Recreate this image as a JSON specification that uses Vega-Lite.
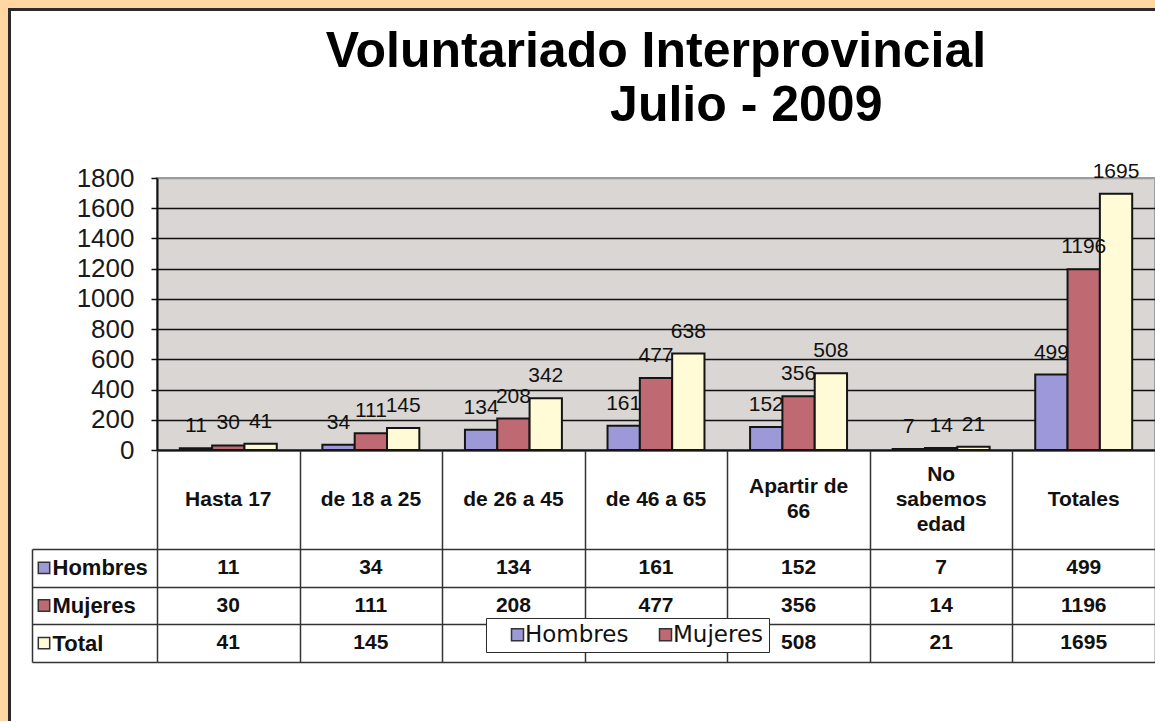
{
  "$schema": "https://vega.github.io/schema/vega-lite/v6.json",
  "padding": 0,
  "background": "#FFFFFF",
  "config": {
    "view": {"stroke": null},
    "concat": {"spacing": 0},
    "font": "Liberation Sans"
  },
  "datasets": {
    "main": [
      {"cat": "Hasta 17", "serie": "Hombres", "value": 11},
      {"cat": "Hasta 17", "serie": "Mujeres", "value": 30},
      {"cat": "Hasta 17", "serie": "Total", "value": 41},
      {"cat": "de 18 a 25", "serie": "Hombres", "value": 34},
      {"cat": "de 18 a 25", "serie": "Mujeres", "value": 111},
      {"cat": "de 18 a 25", "serie": "Total", "value": 145},
      {"cat": "de 26 a 45", "serie": "Hombres", "value": 134},
      {"cat": "de 26 a 45", "serie": "Mujeres", "value": 208},
      {"cat": "de 26 a 45", "serie": "Total", "value": 342},
      {"cat": "de 46 a 65", "serie": "Hombres", "value": 161},
      {"cat": "de 46 a 65", "serie": "Mujeres", "value": 477},
      {"cat": "de 46 a 65", "serie": "Total", "value": 638},
      {"cat": "Apartir de 66", "serie": "Hombres", "value": 152},
      {"cat": "Apartir de 66", "serie": "Mujeres", "value": 356},
      {"cat": "Apartir de 66", "serie": "Total", "value": 508},
      {"cat": "No sabemos edad", "serie": "Hombres", "value": 7},
      {"cat": "No sabemos edad", "serie": "Mujeres", "value": 14},
      {"cat": "No sabemos edad", "serie": "Total", "value": 21},
      {"cat": "Totales", "serie": "Hombres", "value": 499},
      {"cat": "Totales", "serie": "Mujeres", "value": 1196},
      {"cat": "Totales", "serie": "Total", "value": 1695}
    ],
    "head": [
      {"cat": "Hasta 17", "mid": "Hasta 17", "top2": "", "bot2": "", "top3": "", "bot3": ""},
      {"cat": "de 18 a 25", "mid": "de 18 a 25", "top2": "", "bot2": "", "top3": "", "bot3": ""},
      {"cat": "de 26 a 45", "mid": "de 26 a 45", "top2": "", "bot2": "", "top3": "", "bot3": ""},
      {"cat": "de 46 a 65", "mid": "de 46 a 65", "top2": "", "bot2": "", "top3": "", "bot3": ""},
      {"cat": "Apartir de 66", "mid": "", "top2": "Apartir de", "bot2": "66", "top3": "", "bot3": ""},
      {"cat": "No sabemos edad", "mid": "sabemos", "top2": "", "bot2": "", "top3": "No", "bot3": "edad"},
      {"cat": "Totales", "mid": "Totales", "top2": "", "bot2": "", "top3": "", "bot3": ""}
    ],
    "series": [
      {"serie": "Hombres"},
      {"serie": "Mujeres"},
      {"serie": "Total"}
    ]
  },
  "columns": 6,
  "spacing": 0,
  "bounds": "flush",
  "align": "each",
  "concat": [
    {"width": 8, "height": 8, "data": {"values": []}, "mark": "rect", "view": {"fill": "#FFD7A2"}},
    {"width": 3, "height": 8, "data": {"values": []}, "mark": "rect", "view": {"fill": "#FFD7A2"}},
    {"width": 21, "height": 8, "data": {"values": []}, "mark": "rect", "view": {"fill": "#FFD7A2"}},
    {"width": 24, "height": 8, "data": {"values": []}, "mark": "rect", "view": {"fill": "#FFD7A2"}},
    {"width": 101, "height": 8, "data": {"values": []}, "mark": "rect", "view": {"fill": "#FFD7A2"}},
    {"width": 998, "height": 8, "data": {"values": []}, "mark": "rect", "view": {"fill": "#FFD7A2"}},

    {"width": 8, "height": 3, "data": {"values": []}, "mark": "rect", "view": {"fill": "#FFD7A2"}},
    {"width": 3, "height": 3, "data": {"values": []}, "mark": "rect", "view": {"fill": "#2B2B2B"}},
    {"width": 21, "height": 3, "data": {"values": []}, "mark": "rect", "view": {"fill": "#2B2B2B"}},
    {"width": 24, "height": 3, "data": {"values": []}, "mark": "rect", "view": {"fill": "#2B2B2B"}},
    {"width": 101, "height": 3, "data": {"values": []}, "mark": "rect", "view": {"fill": "#2B2B2B"}},
    {"width": 998, "height": 3, "data": {"values": []}, "mark": "rect", "view": {"fill": "#2B2B2B"}},

    {"width": 8, "height": 167, "data": {"values": []}, "mark": "rect", "view": {"fill": "#FFD7A2"}},
    {"width": 3, "height": 167, "data": {"values": []}, "mark": "rect", "view": {"fill": "#2B2B2B"}},
    {"width": 21, "height": 167, "data": {"values": []}, "mark": "rect"},
    {"width": 24, "height": 167, "data": {"values": []}, "mark": "rect"},
    {"width": 101, "height": 167, "data": {"values": []}, "mark": "rect"},
    {"width": 998, "height": 167, "data": {"values": []}, "mark": "rect"},

    {"width": 8, "height": 272, "data": {"values": []}, "mark": "rect", "view": {"fill": "#FFD7A2"}},
    {"width": 3, "height": 272, "data": {"values": []}, "mark": "rect", "view": {"fill": "#2B2B2B"}},
    {"width": 21, "height": 272, "data": {"values": []}, "mark": "rect"},
    {"width": 24, "height": 272, "data": {"values": []}, "mark": "rect"},
    {"width": 101, "height": 272, "data": {"values": []}, "mark": "rect"},
    {
      "width": 998,
      "height": 272,
      "view": {"fill": "#D9D6D3", "stroke": "#9C9C9C", "strokeWidth": 2},
      "title": {
        "text": "Voluntariado Interprovincial",
        "subtitle": "\u200b\u00a0\u00a0\u00a0\u00a0\u00a0\u00a0\u00a0\u00a0\u00a0\u00a0\u00a0\u00a0\u00a0Julio - 2009",
        "anchor": "middle",
        "frame": "group",
        "font": "Liberation Sans",
        "fontSize": 50,
        "fontWeight": "bold",
        "color": "#000000",
        "subtitleFont": "Liberation Sans",
        "subtitleFontSize": 50,
        "subtitleFontWeight": "bold",
        "subtitleColor": "#000000",
        "subtitlePadding": 4,
        "offset": 30
      },
      "data": {"name": "main"},
      "encoding": {
        "x": {
          "field": "cat",
          "type": "nominal",
          "sort": ["Hasta 17", "de 18 a 25", "de 26 a 45", "de 46 a 65", "Apartir de 66", "No sabemos edad", "Totales"],
          "scale": {"type": "band", "paddingInner": 0.32, "paddingOuter": 0.16},
          "axis": {"title": null, "labels": false, "ticks": false, "domain": true, "domainColor": "#111111", "domainWidth": 2, "grid": false}
        },
        "xOffset": {
          "field": "serie",
          "type": "nominal",
          "sort": ["Hombres", "Mujeres", "Total"],
          "scale": {"paddingInner": 0, "paddingOuter": 0}
        },
        "y": {
          "field": "value",
          "type": "quantitative",
          "scale": {"domain": [0, 1800], "nice": false},
          "axis": {
            "title": null,
            "format": "d",
            "values": [0, 200, 400, 600, 800, 1000, 1200, 1400, 1600, 1800],
            "grid": true,
            "gridColor": {"condition": {"test": "datum.value >= 1800", "value": "#9C9C9C"}, "value": "#111111"},
            "gridWidth": 1.5,
            "domainColor": "#111111",
            "domainWidth": 2,
            "tickColor": "#111111",
            "tickSize": 6,
            "tickWidth": 1.5,
            "labelFont": "Liberation Sans",
            "labelFontSize": 26,
            "labelColor": "#1A1A1A",
            "labelPadding": 17
          }
        }
      },
      "layer": [
        {
          "mark": {"type": "bar", "stroke": "#151515", "strokeWidth": 2},
          "encoding": {
            "color": {
              "field": "serie",
              "type": "nominal",
              "scale": {"domain": ["Hombres", "Mujeres", "Total"], "range": ["#9D99D8", "#BF6A73", "#FFFBD6"]},
              "legend": {
                "values": ["Hombres", "Mujeres"],
                "orient": "none",
                "legendX": 486,
                "legendY": 618,
                "direction": "horizontal",
                "title": null,
                "fillColor": "#FFFFFF",
                "strokeColor": "#2A2A2A",
                "padding": 5,
                "symbolType": "square",
                "symbolSize": 144,
                "symbolStrokeWidth": 1.5,
                "symbolStrokeColor": "#333333",
                "labelFont": "DejaVu Sans",
                "labelFontSize": 23,
                "labelColor": "#111111",
                "labelOffset": -4,
                "columnPadding": 10,
                "symbolOffset": 15,
                "gridAlign": "all"
              }
            }
          }
        },
        {
          "mark": {"type": "text", "baseline": "alphabetic", "dy": -16, "fontSize": 21, "color": "#111111", "font": "Liberation Sans"},
          "encoding": {"text": {"field": "value", "type": "quantitative", "format": "d"}}
        }
      ]
    },

    {"width": 8, "height": 99, "data": {"values": []}, "mark": "rect", "view": {"fill": "#FFD7A2"}},
    {"width": 3, "height": 99, "data": {"values": []}, "mark": "rect", "view": {"fill": "#2B2B2B"}},
    {"width": 21, "height": 99, "data": {"values": []}, "mark": "rect"},
    {"width": 24, "height": 99, "data": {"values": []}, "mark": "rect"},
    {"width": 101, "height": 99, "data": {"values": []}, "mark": "rect"},
    {
      "width": 998,
      "height": 99,
      "data": {"name": "head"},
      "encoding": {
        "x": {
          "field": "cat",
          "type": "nominal",
          "sort": ["Hasta 17", "de 18 a 25", "de 26 a 45", "de 46 a 65", "Apartir de 66", "No sabemos edad", "Totales"],
          "scale": {"type": "band", "paddingInner": 0, "paddingOuter": 0},
          "axis": {"title": null, "labels": false, "ticks": false, "domain": false, "grid": true, "gridColor": "#333333", "gridWidth": 1.5, "tickBand": "extent"}
        }
      },
      "layer": [
        {
          "mark": {"type": "text", "fontSize": 21, "fontWeight": "bold", "baseline": "middle", "color": "#111111", "font": "Liberation Sans"},
          "encoding": {"text": {"field": "mid", "type": "nominal"}}
        },
        {
          "mark": {"type": "text", "fontSize": 21, "fontWeight": "bold", "baseline": "middle", "dy": -12.5, "color": "#111111", "font": "Liberation Sans"},
          "encoding": {"text": {"field": "top2", "type": "nominal"}}
        },
        {
          "mark": {"type": "text", "fontSize": 21, "fontWeight": "bold", "baseline": "middle", "dy": 12.5, "color": "#111111", "font": "Liberation Sans"},
          "encoding": {"text": {"field": "bot2", "type": "nominal"}}
        },
        {
          "mark": {"type": "text", "fontSize": 21, "fontWeight": "bold", "baseline": "middle", "dy": -25, "color": "#111111", "font": "Liberation Sans"},
          "encoding": {"text": {"field": "top3", "type": "nominal"}}
        },
        {
          "mark": {"type": "text", "fontSize": 21, "fontWeight": "bold", "baseline": "middle", "dy": 25, "color": "#111111", "font": "Liberation Sans"},
          "encoding": {"text": {"field": "bot3", "type": "nominal"}}
        }
      ]
    },

    {"width": 8, "height": 113, "data": {"values": []}, "mark": "rect", "view": {"fill": "#FFD7A2"}},
    {"width": 3, "height": 113, "data": {"values": []}, "mark": "rect", "view": {"fill": "#2B2B2B"}},
    {"width": 21, "height": 113, "data": {"values": []}, "mark": "rect"},
    {
      "width": 24,
      "height": 113,
      "data": {"name": "series"},
      "mark": {"type": "square", "size": 130, "filled": true, "stroke": "#333333", "strokeWidth": 1.5, "opacity": 1},
      "encoding": {
        "y": {
          "field": "serie",
          "type": "nominal",
          "sort": ["Hombres", "Mujeres", "Total"],
          "scale": {"type": "band", "paddingInner": 0, "paddingOuter": 0},
          "axis": {"title": null, "labels": false, "ticks": false, "domain": true, "domainColor": "#333333", "domainWidth": 1.5, "grid": false}
        },
        "color": {
          "field": "serie",
          "type": "nominal",
          "scale": {"domain": ["Hombres", "Mujeres", "Total"], "range": ["#9D99D8", "#BF6A73", "#FFFBD6"]},
          "legend": {
            "values": ["Hombres", "Mujeres"],
            "orient": "none",
            "legendX": 486,
            "legendY": 618,
            "direction": "horizontal",
            "title": null,
            "fillColor": "#FFFFFF",
            "strokeColor": "#2A2A2A",
            "padding": 5,
            "symbolType": "square",
            "symbolSize": 144,
            "symbolStrokeWidth": 1.5,
            "symbolStrokeColor": "#333333",
            "labelFont": "DejaVu Sans",
            "labelFontSize": 23,
            "labelColor": "#111111",
            "labelOffset": -4,
            "columnPadding": 10,
            "symbolOffset": 15,
            "gridAlign": "all"
          }
        }
      }
    },
    {"width": 101, "height": 113, "data": {"values": []}, "mark": "rect"},
    {
      "width": 998,
      "height": 113,
      "data": {"name": "main"},
      "mark": {"type": "text", "fontSize": 21, "fontWeight": "bold", "baseline": "middle", "color": "#111111", "font": "Liberation Sans"},
      "encoding": {
        "x": {
          "field": "cat",
          "type": "nominal",
          "sort": ["Hasta 17", "de 18 a 25", "de 26 a 45", "de 46 a 65", "Apartir de 66", "No sabemos edad", "Totales"],
          "scale": {"type": "band", "paddingInner": 0, "paddingOuter": 0},
          "axis": {"title": null, "labels": false, "ticks": false, "domain": false, "grid": true, "gridColor": "#333333", "gridWidth": 1.5, "tickBand": "extent"}
        },
        "y": {
          "field": "serie",
          "type": "nominal",
          "sort": ["Hombres", "Mujeres", "Total"],
          "scale": {"type": "band", "paddingInner": 0, "paddingOuter": 0},
          "axis": {
            "title": null,
            "domain": false,
            "ticks": true,
            "tickSize": 125,
            "tickColor": "#333333",
            "tickWidth": 1.5,
            "tickBand": "extent",
            "grid": true,
            "gridColor": "#333333",
            "gridWidth": 1.5,
            "labelAlign": "left",
            "labelBaseline": "middle",
            "labelPadding": -20,
            "labelFont": "Liberation Sans",
            "labelFontSize": 22,
            "labelFontWeight": "bold",
            "labelColor": "#111111"
          }
        },
        "text": {"field": "value", "type": "quantitative", "format": "d"}
      }
    },

    {"width": 8, "height": 59, "data": {"values": []}, "mark": "rect", "view": {"fill": "#FFD7A2"}},
    {"width": 3, "height": 59, "data": {"values": []}, "mark": "rect", "view": {"fill": "#2B2B2B"}}
  ]
}
